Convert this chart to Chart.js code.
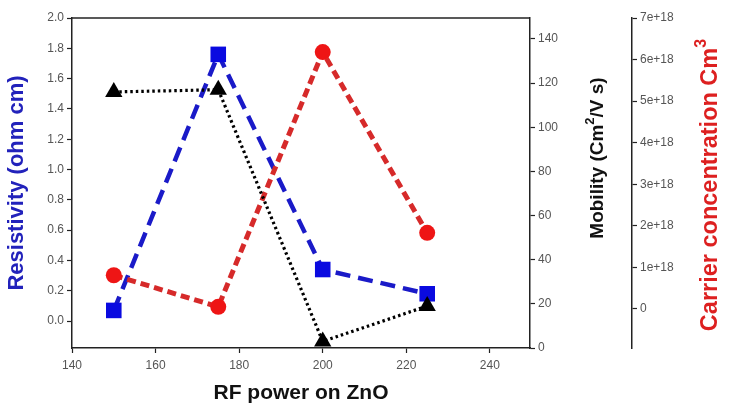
<!DOCTYPE html>
<html>
<head>
<meta charset="utf-8">
<script src="https://cdn.jsdelivr.net/npm/chart.js@4/dist/chart.umd.min.js"></script>
<style>
  html, body { margin: 0; padding: 0; background: #fff; }
  #wrap { width: 735px; height: 414px; position: relative; }
</style>
</head>
<body>
<div id="wrap"><canvas id="c"></canvas></div>
<script>
// ---- data ----
const rfPower = [150, 175, 200, 225];
const resistivity = [0.07, 1.76, 0.34, 0.18];
const mobility = [116, 117, 3, 19];
const carrier = [0.81e18, 0.05e18, 6.18e18, 1.83e18];

// ---- tick labels ----
const xTicks = [140, 160, 180, 200, 220, 240];
const resTicks = [0, 0.2, 0.4, 0.6, 0.8, 1.0, 1.2, 1.4, 1.6, 1.8, 2.0];
const mobTicks = [0, 20, 40, 60, 80, 100, 120, 140];
const carTicks = [0, 1e18, 2e18, 3e18, 4e18, 5e18, 6e18, 7e18];

const FONT = '"Liberation Sans", Arial, sans-serif';
const tickFont = { family: FONT, size: 12 };
const tickColor = '#555';
const axisColor = '#222';

function pts(ys) { return rfPower.map((x, i) => ({ x: x, y: ys[i] })); }
function fixTicks(arr) { return function (scale) { scale.ticks = arr.map(v => ({ value: v })); }; }

function drawRotatedTitle(ctx, parts, cx, cy, size, color) {
  ctx.save();
  const normal = 'bold ' + size + 'px ' + FONT;
  const sup = 'bold ' + Math.round(size * 0.68) + 'px ' + FONT;
  let total = 0;
  parts.forEach(p => { ctx.font = p.sup ? sup : normal; p.w = ctx.measureText(p.t).width; total += p.w; });
  ctx.translate(cx, cy);
  ctx.rotate(-Math.PI / 2);
  ctx.fillStyle = color;
  ctx.textBaseline = 'middle';
  ctx.textAlign = 'left';
  let x = -total / 2;
  parts.forEach(p => {
    ctx.font = p.sup ? sup : normal;
    ctx.fillText(p.t, x, p.sup ? -size * 0.38 : 0);
    x += p.w;
  });
  ctx.restore();
}

const framePlugin = {
  id: 'frame',
  afterDraw(chart) {
    const { ctx, chartArea } = chart;
    ctx.save();
    ctx.strokeStyle = axisColor;
    ctx.lineWidth = 1.5;
    ctx.beginPath();
    ctx.moveTo(chartArea.left, chartArea.top);
    ctx.lineTo(chartArea.right, chartArea.top);
    ctx.stroke();
    ctx.restore();
    drawRotatedTitle(ctx, [{ t: 'Mobility (Cm' }, { t: '2', sup: true }, { t: '/V s)' }], 598, 158, 19, '#111');
    drawRotatedTitle(ctx, [{ t: 'Carrier concentration Cm' }, { t: '3', sup: true }], 711, 185, 23.5, '#dd2020');
  }
};

function yAxis(position, min, max, ticksArr, fmt, width, extra) {
  return Object.assign({
    type: 'linear',
    position: position,
    min: min,
    max: max,
    afterBuildTicks: fixTicks(ticksArr),
    afterFit(scale) { scale.width = width; },
    grid: { display: true, drawOnChartArea: false, drawTicks: true, tickLength: 5, tickColor: axisColor, tickWidth: 1.2 },
    border: { display: true, color: axisColor, width: 1.5 },
    ticks: { font: tickFont, color: tickColor, padding: 3, callback: fmt }
  }, extra || {});
}

new Chart(document.getElementById('c'), {
  type: 'line',
  data: {
    datasets: [
      {
        label: 'Mobility',
        data: pts(mobility),
        yAxisID: 'yMob',
        borderColor: '#000',
        backgroundColor: '#000',
        borderWidth: 3.2,
        borderDash: [2.5, 3],
        pointStyle: 'triangle',
        pointRadius: 10,
        pointBorderWidth: 0,
        pointBackgroundColor: '#000'
      },
      {
        label: 'Carrier concentration',
        data: pts(carrier),
        yAxisID: 'yCar',
        borderColor: '#d62a2a',
        backgroundColor: '#ee1515',
        borderWidth: 5,
        borderDash: [9, 5],
        pointStyle: 'circle',
        pointRadius: 8,
        pointBorderWidth: 0,
        pointBackgroundColor: '#ee1515'
      },
      {
        label: 'Resistivity',
        data: pts(resistivity),
        yAxisID: 'yRes',
        borderColor: '#1a1ac8',
        backgroundColor: '#0a0ae0',
        borderWidth: 4.5,
        borderDash: [15, 8],
        pointStyle: 'rect',
        pointRadius: 11,
        pointBorderWidth: 0,
        pointBackgroundColor: '#0a0ae0'
      }
    ]
  },
  options: {
    responsive: true,
    maintainAspectRatio: false,
    animation: false,
    layout: { padding: { top: 18, left: 0, right: 0, bottom: 0 } },
    plugins: { legend: { display: false }, tooltip: { enabled: false } },
    scales: {
      x: {
        type: 'linear',
        position: 'bottom',
        min: 140,
        max: 249.6,
        afterBuildTicks: fixTicks(xTicks),
        afterFit(scale) { scale.height = 66; },
        grid: { display: true, drawOnChartArea: false, drawTicks: true, tickLength: 5, tickColor: axisColor, tickWidth: 1.2 },
        border: { display: true, color: axisColor, width: 1.5 },
        ticks: { font: tickFont, color: tickColor, padding: 5, maxRotation: 0 },
        title: { display: true, text: 'RF power on ZnO', color: '#111', font: { family: FONT, size: 21, weight: 'bold' }, padding: { top: 0, bottom: 8 } }
      },
      yRes: yAxis('left', -0.178, 2.0, resTicks, v => v.toFixed(1), 72, {
        title: { display: true, text: 'Resistivity (ohm cm)', color: '#2222bb', font: { family: FONT, size: 22, weight: 'bold' }, padding: { top: 4, bottom: 0 } }
      }),
      yMob: yAxis('right', 0, 149.5, mobTicks, v => String(v), 102),
      yCar: yAxis('right', -0.94e18, 7e18, carTicks, v => v === 0 ? '0' : Math.round(v / 1e18) + 'e+18', 103)
    }
  },
  plugins: [framePlugin]
});
</script>
</body>
</html>
